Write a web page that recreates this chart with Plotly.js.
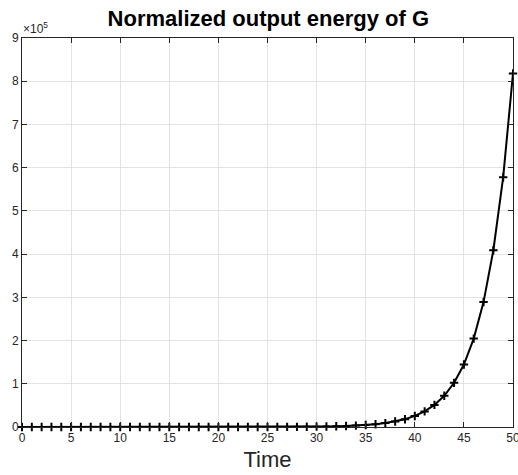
<!DOCTYPE html>
<html><head><meta charset="utf-8">
<script src="https://cdn.plot.ly/plotly-3.0.1.min.js"></script>
<style>html,body{margin:0;padding:0;background:#fff}#plot{width:518px;height:475px}</style>
</head><body><div id="plot"></div>
<script>
const timeSteps = [0,1,2,3,4,5,6,7,8,9,10,11,12,13,14,15,16,17,18,19,20,21,22,23,24,25,26,27,28,29,30,31,32,33,34,35,36,37,38,39,40,41,42,43,44,45,46,47,48,49,50];
const energy = [0.025,0.035,0.05,0.07,0.1,0.14,0.2,0.28,0.4,0.55,0.8,1.1,1.6,2.2,3.1,4.4,6,9,12,18,25,35,50,70,100,141,200,282,399,565,799,1130,1600,2260,3190,4520,6390,9030,12800,18100,25600,36100,51100,72300,102200,144600,204500,289000,409000,578000,818000];
const yTickVals = [0,100000,200000,300000,400000,500000,600000,700000,800000,900000];
const yTickText = ['0','1','2','3','4','5','6','7','8','9'];
const xTickVals = [0,5,10,15,20,25,30,35,40,45,50];

const FONT = 'Liberation Sans, Arial, sans-serif';
const axisCommon = {
  showline: true, linecolor: '#262626', linewidth: 1, mirror: 'ticks',
  ticks: 'inside', ticklen: 5, tickcolor: '#262626', tickwidth: 1,
  showgrid: true, gridcolor: '#e3e3e3', gridwidth: 1, zeroline: false,
  ticklabeloverflow: 'allow',
  tickfont: {family: FONT, size: 12, color: '#262626'}
};

Plotly.newPlot('plot', [{
  x: timeSteps, y: energy, type: 'scatter', mode: 'lines+markers',
  line: {color: '#000', width: 2},
  marker: {symbol: 'cross-thin', size: 6, line: {color: '#000', width: 2}},
  cliponaxis: false
}], {
  width: 518, height: 475,
  margin: {l: 21.5, r: 5, t: 38, b: 48},
  paper_bgcolor: '#fff', plot_bgcolor: '#fff',
  showlegend: false,
  title: {text: '<b>Normalized output energy of G</b>', x: 0.518, xanchor: 'center', y: 0.962, yanchor: 'middle',
    font: {family: FONT, size: 22, color: '#000'}},
  xaxis: Object.assign({}, axisCommon, {range: [0, 50], tickvals: xTickVals,
    title: {text: 'Time', standoff: 7, font: {family: FONT, size: 22, color: '#262626'}}}),
  yaxis: Object.assign({}, axisCommon, {range: [0, 900000], tickvals: yTickVals, ticktext: yTickText}),
  annotations: [{text: '×10<sup>5</sup>', xref: 'paper', yref: 'paper', x: 0, y: 1, xanchor: 'left', yanchor: 'bottom',
    xshift: -1, yshift: 0, showarrow: false, font: {family: FONT, size: 12, color: '#262626'}}]
}, {staticPlot: true});
</script></body></html>
